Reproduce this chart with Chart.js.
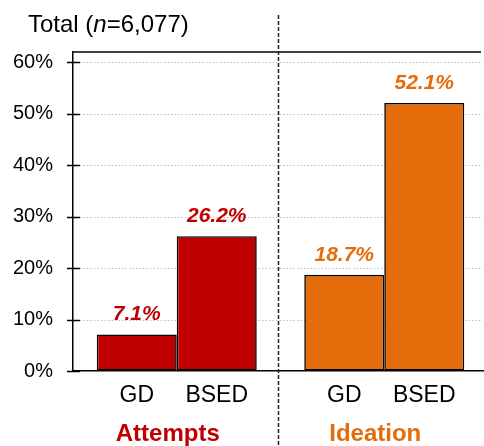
<!DOCTYPE html>
<html lang="en">
<head>
    <meta charset="UTF-8">
    <title>Total (n=6,077)</title>
    <script src="https://cdn.jsdelivr.net/npm/chart.js"></script>
    <style>
        body { margin: 0; background: #fff; overflow: hidden; }
        #wrap { width: 484px; height: 446px; overflow: hidden; }
        #chart { display: block; }
    </style>
</head>
<body>
<div id="wrap">
    <!-- the plot runs a little past the right edge, like the cropped original -->
    <canvas id="chart" width="488" height="446"></canvas>
</div>
<script>
    const groups = ['Attempts', 'Ideation'];
    const series = ['GD', 'BSED'];
    const gdValues = [7.1, 18.7];
    const bsedValues = [26.2, 52.1];
    const titleParts = ['Total (', 'n', '=6,077)'];

    const groupColors = ['#C00000', '#E46C0A'];
    const FONT = '"Liberation Sans", Arial, sans-serif';
    const VISIBLE_W = 484;

    function line(ctx, x1, y1, x2, y2) {
        ctx.beginPath();
        ctx.moveTo(x1, y1);
        ctx.lineTo(x2, y2);
        ctx.stroke();
    }

    const decor = {
        id: 'decor',
        beforeDatasetsDraw(chart) {
            const { ctx, chartArea: a, scales: { y } } = chart;
            ctx.save();
            ctx.strokeStyle = '#bdbdbd';
            ctx.lineWidth = 1;
            ctx.setLineDash([1.5, 2]);
            y.ticks.forEach(t => {
                if (t.value === 0) return;
                const py = Math.round(y.getPixelForValue(t.value)) + 0.5;
                line(ctx, a.left, py, VISIBLE_W - 3, py);
            });
            ctx.restore();
        },
        afterDraw(chart) {
            const { ctx, chartArea: a, scales: { x, y } } = chart;
            ctx.save();

            // frame top + tick marks crossing the y axis
            ctx.strokeStyle = '#000';
            ctx.lineWidth = 1.5;
            line(ctx, a.left, a.top, VISIBLE_W - 3, a.top);
            y.ticks.forEach(t => {
                const py = Math.round(y.getPixelForValue(t.value)) + 0.5;
                line(ctx, a.left - 6, py, a.left + 7, py);
            });

            // dashed separator between the two groups
            const sx = Math.round((x.getPixelForValue(0) + x.getPixelForValue(1)) / 2) - 2.5;
            ctx.strokeStyle = '#222';
            ctx.setLineDash([4, 2]);
            line(ctx, sx, 15, sx, 446);
            ctx.setLineDash([]);

            // title with italic n
            ctx.fillStyle = '#000';
            ctx.textBaseline = 'alphabetic';
            ctx.textAlign = 'left';
            let tx = 28;
            titleParts.forEach((s, i) => {
                ctx.font = (i === 1 ? 'italic ' : '') + '24px ' + FONT;
                ctx.fillText(s, tx, 32);
                tx += ctx.measureText(s).width;
            });

            // value labels above bars, series names under bars
            ctx.textAlign = 'center';
            chart.data.datasets.forEach((ds, i) => {
                chart.getDatasetMeta(i).data.forEach((bar, j) => {
                    ctx.fillStyle = groupColors[j];
                    ctx.font = 'italic bold 21px ' + FONT;
                    ctx.fillText(ds.data[j].toFixed(1) + '%', bar.x, bar.y - 14);
                    ctx.fillStyle = '#000';
                    ctx.font = '23px ' + FONT;
                    ctx.fillText(series[i], bar.x, a.bottom + 31);
                });
            });
            ctx.restore();
        }
    };

    new Chart(document.getElementById('chart'), {
        type: 'bar',
        data: {
            labels: groups,
            datasets: [
                { label: series[0], data: gdValues },
                { label: series[1], data: bsedValues }
            ].map(d => Object.assign(d, {
                backgroundColor: groupColors,
                borderColor: '#000',
                borderWidth: 1.6,
                borderSkipped: false,
                barPercentage: 1,
                categoryPercentage: 0.771
            }))
        },
        options: {
            responsive: false,
            animation: false,
            layout: { padding: { top: 52, left: 0, right: 0, bottom: 0 } },
            plugins: { legend: { display: false }, tooltip: { enabled: false } },
            scales: {
                x: {
                    grid: { display: false },
                    border: { display: true, color: '#000', width: 1.5 },
                    ticks: {
                        padding: 41,
                        labelOffset: -9,
                        font: { family: FONT, size: 24, weight: 'bold' },
                        color: c => groupColors[c.index]
                    },
                    afterFit: s => { s.height = 75; }
                },
                y: {
                    min: 0,
                    max: 62,
                    grid: { display: true, drawOnChartArea: false, drawTicks: false },
                    border: { display: true, color: '#000', width: 1.5 },
                    ticks: {
                        stepSize: 10,
                        includeBounds: false,
                        padding: 20,
                        color: '#000',
                        font: { family: FONT, size: 20 },
                        callback: v => v + '%'
                    },
                    afterFit: s => { s.width = 73; }
                }
            }
        },
        plugins: [decor]
    });
</script>
</body>
</html>
